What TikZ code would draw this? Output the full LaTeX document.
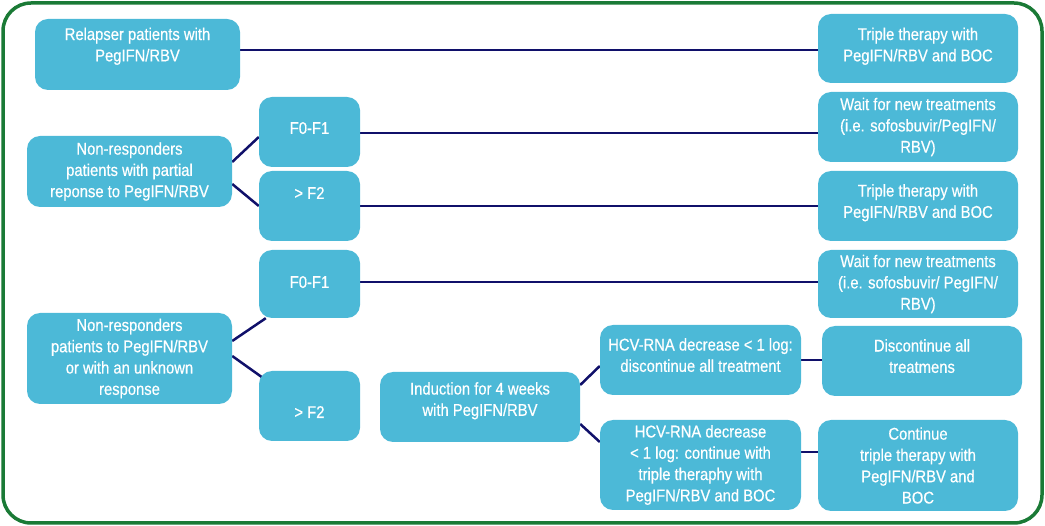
\documentclass[tikz,border=0pt]{standalone}
\usepackage{fontspec}
\setmainfont[FakeStretch=0.87,FakeBold=0.5]{Liberation Sans}
\usetikzlibrary{calc,backgrounds}
\definecolor{boxblue}{HTML}{4CB9D7}
\definecolor{linenavy}{HTML}{10106A}
\definecolor{framegreen}{HTML}{1A7A36}
\tikzset{
  bx/.style={fill=boxblue, rounded corners=13pt, text=white, align=center,
    inner sep=0pt, font=\fontsize{17}{21.3}\selectfont},
  conn/.style={draw=linenavy, line width=2.5pt},
  raisetxt/.style={text depth=#1}
}
\begin{document}
\begin{tikzpicture}[x=1pt,y=-1pt]
\useasboundingbox (0,0) rectangle (1045,526);
\draw[framegreen, line width=3.5pt, rounded corners=28pt] (3,3) rectangle (1042,523);

\node[bx, minimum width=205pt, minimum height=71pt, raisetxt=20pt] (rel) at (137.5,54.5) {Relapser patients with\\PegIFN/RBV};
\node[bx, minimum width=200pt, minimum height=69pt, raisetxt=8pt] (tri1) at (918,48.5) {Triple therapy with\\PegIFN/RBV and BOC};
\node[bx, minimum width=205pt, minimum height=71pt] (par) at (129.5,171.5) {Non-responders\\patients with partial\\reponse to PegIFN/RBV};
\node[bx, minimum width=101pt, minimum height=70pt, raisetxt=8pt] (f01a) at (309.5,132) {F0-F1};
\node[bx, minimum width=101pt, minimum height=70pt, raisetxt=26pt] (f2a) at (309.5,206) {> F2};
\node[bx, minimum width=200pt, minimum height=70pt] (waita) at (918,127) {Wait for new treatments\\(i.e. sofosbuvir/PegIFN/\\RBV)};
\node[bx, minimum width=200pt, minimum height=70pt, raisetxt=10pt] (tri2) at (918,206) {Triple therapy with\\PegIFN/RBV and BOC};
\node[bx, minimum width=101pt, minimum height=68pt, raisetxt=4pt] (f01b) at (309.5,284) {F0-F1};
\node[bx, minimum width=205pt, minimum height=91pt] (unk) at (129.5,358.5) {Non-responders\\patients to PegIFN/RBV\\or with an unknown\\response};
\node[bx, minimum width=101pt, minimum height=70pt, text height=24pt] (f2b) at (309.5,406) {> F2};
\node[bx, minimum width=200pt, minimum height=70pt, raisetxt=16pt] (ind) at (480,407) {Induction for 4 weeks\\with PegIFN/RBV};
\node[bx, minimum width=201pt, minimum height=70pt, raisetxt=10pt] (hcv1) at (700.5,360) {HCV-RNA decrease < 1 log:\\discontinue all treatment};
\node[bx, minimum width=200pt, minimum height=70pt, raisetxt=10pt] (disc) at (922,361) {Discontinue all\\treatmens};
\node[bx, minimum width=200pt, minimum height=68pt] (waitb) at (918,284) {Wait for new treatments\\(i.e. sofosbuvir/ PegIFN/\\RBV)};
\node[bx, minimum width=201pt, minimum height=90pt] (hcv2) at (700.5,465) {HCV-RNA decrease\\< 1 log: continue with\\triple theraphy with\\PegIFN/RBV and BOC};
\node[bx, minimum width=200pt, minimum height=91pt] (cont) at (918,465.5) {Continue\\triple therapy with\\PegIFN/RBV and\\BOC};

\begin{scope}[on background layer]
\draw[conn] ([yshift=-1.5pt]tri1.west) -- ([yshift=-1.5pt]tri1.west -| rel.east);
\draw[conn] ([yshift=9.5pt]par.east) -- ([yshift=-5pt]f01a.west);
\draw[conn] ([yshift=-12.5pt]par.east) -- (f2a.west);
\draw[conn] ([yshift=-1pt]f01a.east) -- ([yshift=-1pt]f01a.east -| waita.west);
\draw[conn] (f2a.east) -- (f2a.east -| tri2.west);
\draw[conn] ([yshift=17.5pt]unk.east) -- ([xshift=7pt]f01b.south west);
\draw[conn] ([yshift=2.5pt]unk.east) -- ([xshift=4pt,yshift=-7pt]f2b.north west);
\draw[conn] ([yshift=2pt]f01b.east) -- ([yshift=2pt]f01b.east -| waitb.west);
\draw[conn] ([yshift=22pt]ind.east) -- ([yshift=-6pt]hcv1.west);
\draw[conn] ([yshift=-17pt]ind.east) -- ([yshift=23pt]hcv2.west);
\draw[conn] (hcv1.east) -- (hcv1.east -| disc.west);
\draw[conn] ([yshift=13pt]hcv2.east) -- ([yshift=13pt]hcv2.east -| cont.west);
\end{scope}
\end{tikzpicture}
\end{document}
